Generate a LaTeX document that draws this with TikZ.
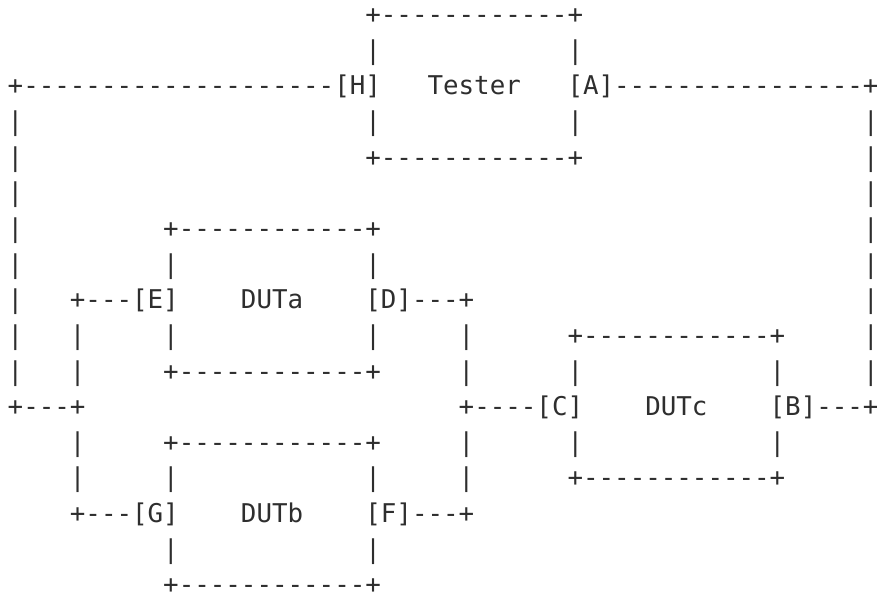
\documentclass[tikz,border=0pt]{standalone}
\usepackage{fontspec}
\setmonofont{DejaVu Sans Mono}
\definecolor{ink}{HTML}{2E2E2E}
\newcommand\asciigap[1]{\hspace*{#1\fontcharwd\font`0}}
\tikzset{
  row/.style={anchor=base west, inner sep=0pt, outer sep=0pt, text=ink,
    font=\ttfamily\fontsize{25.83bp}{35.7bp}\selectfont},
}
\begin{document}
\begin{tikzpicture}[x=1bp,y=-1bp]
\useasboundingbox (0,0) rectangle (877,594);
\def\lx{7.72}
\def\ly{23.6}
\def\ld{35.64}
\node[row] (l1)  at (\lx, \ly+0*\ld)  {\asciigap{23}+------------+};
\node[row] (l2)  at (\lx, \ly+1*\ld)  {\asciigap{23}|\asciigap{12}|};
\node[row] (l3)  at (\lx, \ly+2*\ld)  {+--------------------[H]\asciigap{3}Tester\asciigap{3}[A]----------------+};
\node[row] (l4)  at (\lx, \ly+3*\ld)  {|\asciigap{22}|\asciigap{12}|\asciigap{18}|};
\node[row] (l5)  at (\lx, \ly+4*\ld)  {|\asciigap{22}+------------+\asciigap{18}|};
\node[row] (l6)  at (\lx, \ly+5*\ld)  {|\asciigap{54}|};
\node[row] (l7)  at (\lx, \ly+6*\ld)  {|\asciigap{9}+------------+\asciigap{31}|};
\node[row] (l8)  at (\lx, \ly+7*\ld)  {|\asciigap{9}|\asciigap{12}|\asciigap{31}|};
\node[row] (l9)  at (\lx, \ly+8*\ld)  {|\asciigap{3}+---[E]\asciigap{4}DUTa\asciigap{4}[D]---+\asciigap{25}|};
\node[row] (l10) at (\lx, \ly+9*\ld)  {|\asciigap{3}|\asciigap{5}|\asciigap{12}|\asciigap{5}|\asciigap{6}+------------+\asciigap{5}|};
\node[row] (l11) at (\lx, \ly+10*\ld) {|\asciigap{3}|\asciigap{5}+------------+\asciigap{5}|\asciigap{6}|\asciigap{12}|\asciigap{5}|};
\node[row] (l12) at (\lx, \ly+11*\ld) {+---+\asciigap{24}+----[C]\asciigap{4}DUTc\asciigap{4}[B]---+};
\node[row] (l13) at (\lx, \ly+12*\ld) {\asciigap{4}|\asciigap{5}+------------+\asciigap{5}|\asciigap{6}|\asciigap{12}|};
\node[row] (l14) at (\lx, \ly+13*\ld) {\asciigap{4}|\asciigap{5}|\asciigap{12}|\asciigap{5}|\asciigap{6}+------------+};
\node[row] (l15) at (\lx, \ly+14*\ld) {\asciigap{4}+---[G]\asciigap{4}DUTb\asciigap{4}[F]---+};
\node[row] (l16) at (\lx, \ly+15*\ld) {\asciigap{10}|\asciigap{12}|};
\node[row] (l17) at (\lx, \ly+16*\ld) {\asciigap{10}+------------+};
\end{tikzpicture}
\end{document}
